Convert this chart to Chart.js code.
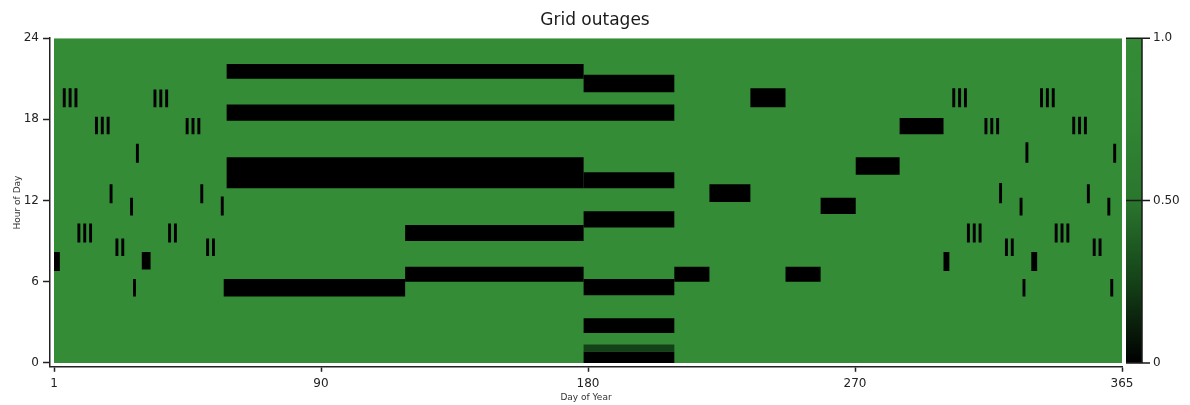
<!DOCTYPE html>
<html>
<head>
<meta charset="utf-8">
<script src="https://cdn.jsdelivr.net/npm/chart.js@4.4.1/dist/chart.umd.min.js"></script>
<style>
  html, body { margin: 0; padding: 0; background: #fff; }
</style>
</head>
<body>
<canvas id="chart" width="1190" height="405"></canvas>
<script>
(function () {
  'use strict';

  // ticks
  var xTickValues = [0.5, 91.75, 183, 274.25, 365.5];
  var xTickLabels = ['1', '90', '180', '270', '365'];
  var yTickValues = [0, 6, 12, 18, 24];
  var cbTickValues = [0, 0.5, 1];
  var cbTickLabels = ['0', '0.50', '1.0'];

  var dayCount = 365;
  var hourCount = 24;

  // outages: first day, last day, hour from, hour to, supply level (0 = none)
  var outFirst = [
    4, 6, 8, 15, 17, 19, 29, 20, 27, 9, 11, 13, 22, 24, 31, 28, 1,
    35, 37, 39, 46, 48, 50, 51, 58, 40, 42, 53, 55,
    60, 60, 60, 59, 121, 121,
    182, 182, 182, 182, 182, 182, 182,
    213, 225, 239, 251, 263, 275, 290,
    308, 310, 312, 319, 321, 323, 333, 324, 331, 313, 315, 317, 326, 328, 305, 332,
    338, 340, 342, 349, 351, 353, 363, 354, 361, 343, 345, 347, 356, 358, 335, 362
  ];
  var outLast = [
    4, 6, 8, 15, 17, 19, 29, 20, 27, 9, 11, 13, 22, 24, 33, 28, 2,
    35, 37, 39, 46, 48, 50, 51, 58, 40, 42, 53, 55,
    181, 212, 181, 120, 181, 181,
    212, 212, 212, 212, 212, 212, 212,
    224, 238, 250, 262, 274, 289, 304,
    308, 310, 312, 319, 321, 323, 333, 324, 331, 313, 315, 317, 326, 328, 306, 332,
    338, 340, 342, 349, 351, 353, 363, 354, 361, 343, 345, 347, 356, 358, 336, 362
  ];
  var outFrom = [
    18.9, 18.9, 18.9, 16.9, 16.9, 16.9, 14.8, 11.8, 10.9, 8.9, 8.9, 8.9, 7.9, 7.9, 6.9, 4.9, 6.8,
    18.9, 18.9, 18.9, 16.9, 16.9, 16.9, 11.8, 10.9, 8.9, 8.9, 7.9, 7.9,
    21.0, 17.9, 12.9, 4.9, 9.0, 6.0,
    20.0, 12.9, 10.0, 5.0, 2.2, 0.85, 0,
    6.0, 11.9, 18.9, 6.0, 11.0, 13.9, 16.9,
    18.9, 18.9, 18.9, 16.9, 16.9, 16.9, 14.8, 11.8, 10.9, 8.9, 8.9, 8.9, 7.9, 7.9, 6.8, 4.9,
    18.9, 18.9, 18.9, 16.9, 16.9, 16.9, 14.8, 11.8, 10.9, 8.9, 8.9, 8.9, 7.9, 7.9, 6.8, 4.9
  ];
  var outTo = [
    20.3, 20.3, 20.3, 18.2, 18.2, 18.2, 16.2, 13.2, 12.2, 10.3, 10.3, 10.3, 9.2, 9.2, 8.2, 6.2, 8.2,
    20.2, 20.2, 20.2, 18.1, 18.1, 18.1, 13.2, 12.3, 10.3, 10.3, 9.2, 9.2,
    22.1, 19.1, 15.2, 6.2, 10.2, 7.1,
    21.3, 14.1, 11.2, 6.2, 3.3, 1.35, 0.85,
    7.1, 13.2, 20.3, 7.1, 12.2, 15.2, 18.1,
    20.3, 20.3, 20.3, 18.1, 18.1, 18.1, 16.3, 13.3, 12.2, 10.3, 10.3, 10.3, 9.2, 9.2, 8.2, 6.2,
    20.3, 20.3, 20.3, 18.2, 18.2, 18.2, 16.2, 13.2, 12.2, 10.3, 10.3, 10.3, 9.2, 9.2, 8.2, 6.2
  ];
  var outLevel = [
    0, 0, 0, 0, 0, 0, 0, 0, 0, 0, 0, 0, 0, 0, 0, 0, 0,
    0, 0, 0, 0, 0, 0, 0, 0, 0, 0, 0, 0,
    0, 0, 0, 0, 0, 0,
    0, 0, 0, 0, 0, 0.25, 0,
    0, 0, 0, 0, 0, 0, 0,
    0, 0, 0, 0, 0, 0, 0, 0, 0, 0, 0, 0, 0, 0, 0, 0,
    0, 0, 0, 0, 0, 0, 0, 0, 0, 0, 0, 0, 0, 0, 0, 0
  ];

  // black -> green colour map
  var cmapStops = [
    [0, [0, 0, 0]],
    [0.25, [20, 66, 24]],
    [0.5, [42, 118, 46]],
    [0.75, [49, 134, 52]],
    [1, [52, 140, 54]]
  ];

  function cmap(v) {
    for (var i = 1; i < cmapStops.length; i++) {
      var a = cmapStops[i - 1], b = cmapStops[i];
      if (v <= b[0]) {
        var t = (v - a[0]) / (b[0] - a[0]);
        var c = a[1].map(function (ch, k) { return Math.round(ch + (b[1][k] - ch) * t); });
        return 'rgb(' + c.join(',') + ')';
      }
    }
    return 'rgb(' + cmapStops[cmapStops.length - 1][1].join(',') + ')';
  }

  function rect(x0, x1, y0, y1, color, order) {
    return {
      data: [{ x: x0, y: y0 }, { x: x1, y: y0 }, { x: x1, y: y1 }, { x: x0, y: y1 }],
      backgroundColor: color,
      borderWidth: 0,
      showLine: false,
      fill: 'shape',
      pointRadius: 0,
      pointHitRadius: 0,
      yAxisID: 'y',
      order: order
    };
  }

  var datasets = [];
  for (var i = 0; i < outFirst.length; i++) {
    datasets.push(rect(outFirst[i] - 0.5, outLast[i] + 0.5, outFrom[i], outTo[i], cmap(outLevel[i]), 0));
  }
  // supply everywhere else
  datasets.push(rect(0.5, dayCount + 0.5, 0, hourCount, cmap(1), 1));

  var tickFont = { family: 'DejaVu Sans', size: 12 };
  var titleFont = { family: 'DejaVu Sans', size: 9 };

  var colorbar = {
    id: 'colorbar',
    afterDraw: function (chart) {
      var ctx = chart.ctx;
      var area = chart.chartArea;
      var cb = chart.scales.cb;
      var x0 = area.right + 4;
      var x1 = area.right + 20;
      var yTop = cb.getPixelForValue(1);
      var yBot = cb.getPixelForValue(0);
      var grad = ctx.createLinearGradient(0, yBot, 0, yTop);
      cmapStops.forEach(function (s) { grad.addColorStop(s[0], cmap(s[0])); });
      ctx.save();
      ctx.fillStyle = grad;
      ctx.fillRect(x0, yTop, x1 - x0, yBot - yTop);
      ctx.strokeStyle = '#1a1a1a';
      ctx.lineWidth = 1.5;
      ctx.beginPath();
      ctx.moveTo(x1, yTop);
      ctx.lineTo(x1, yBot);
      cbTickValues.forEach(function (v) {
        var y = cb.getPixelForValue(v);
        ctx.moveTo(x0, y);
        ctx.lineTo(x1 + 8, y);
      });
      ctx.stroke();
      ctx.restore();
    }
  };

  var ctx = document.getElementById('chart').getContext('2d');

  new Chart(ctx, {
    type: 'line',
    data: { datasets: datasets },
    options: {
      responsive: false,
      animation: false,
      events: [],
      layout: { padding: 0 },
      plugins: {
        legend: { display: false },
        tooltip: { enabled: false },
        title: {
          display: true,
          text: 'Grid outages',
          color: '#1a1a1a',
          font: { family: 'DejaVu Sans', size: 17, weight: 'normal' },
          padding: { top: 8, bottom: 7.6 }
        }
      },
      scales: {
        x: {
          type: 'linear',
          min: -0.87, // leaves a small gap between the spine and the cells
          max: dayCount + 0.5,
          afterBuildTicks: function (s) {
            s.ticks = xTickValues.map(function (v) { return { value: v }; });
          },
          ticks: {
            autoSkip: false,
            maxRotation: 0,
            padding: 5,
            color: '#222',
            font: tickFont,
            callback: function (v, i) { return xTickLabels[i]; }
          },
          grid: { drawOnChartArea: false, tickLength: 5, tickColor: '#222', tickWidth: 1.5 },
          border: { color: '#222', width: 1.5 },
          title: { display: true, text: 'Day of Year', color: '#333', font: titleFont, padding: { top: 0, bottom: 2 } },
          afterFit: function (s) { s.height = 38; }
        },
        y: {
          type: 'linear',
          position: 'left',
          min: -0.29,
          max: hourCount,
          afterBuildTicks: function (s) {
            s.ticks = yTickValues.map(function (v) { return { value: v }; });
          },
          ticks: { padding: 4, color: '#222', font: tickFont },
          grid: { drawOnChartArea: false, tickLength: 7, tickColor: '#222', tickWidth: 1.5 },
          border: { color: '#222', width: 1.5 },
          title: { display: true, text: 'Hour of Day', color: '#333', font: titleFont, padding: { top: 12, bottom: 0 } },
          afterFit: function (s) { s.width = 50; }
        },
        cb: {
          type: 'linear',
          axis: 'y',
          position: 'right',
          min: -0.012,
          max: 1,
          afterBuildTicks: function (s) {
            s.ticks = cbTickValues.map(function (v) { return { value: v }; });
          },
          ticks: {
            padding: 31,
            color: '#222',
            font: tickFont,
            callback: function (v, i) { return cbTickLabels[i]; }
          },
          grid: { display: false, drawTicks: false, drawOnChartArea: false },
          border: { display: false },
          afterFit: function (s) { s.width = 68; }
        }
      }
    },
    plugins: [colorbar]
  });
}());
</script>
</body>
</html>
